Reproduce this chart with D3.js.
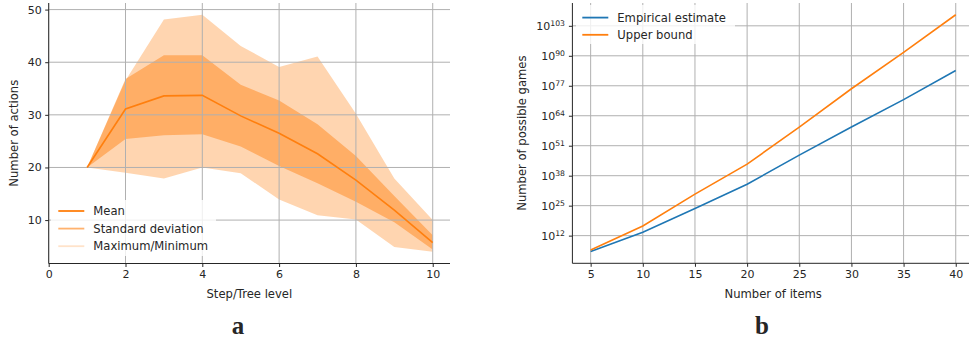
<!DOCTYPE html>
<html>
<head>
<meta charset="utf-8">
<script src="https://cdn.jsdelivr.net/npm/d3@7"></script>
<style>
  html, body { margin: 0; padding: 0; background: #fff; }
  svg { display: block; }
  text { font-family: "DejaVu Sans", sans-serif; fill: #262626; }
</style>
</head>
<body>
<svg id="chart" width="969" height="341"></svg>
<script>
// ---------- Panel a data ----------
const steps = [1, 2, 3, 4, 5, 6, 7, 8, 9, 10];
const meanActions = [20, 31.1, 33.6, 33.7, 29.8, 26.5, 22.6, 17.6, 11.9, 5.7];
const stdUpper = [20, 36.8, 41.3, 41.3, 35.7, 32.7, 28.2, 22.2, 14.6, 7.1];
const stdLower = [20, 25.4, 26.1, 26.3, 24.0, 20.3, 17.0, 13.5, 9.6, 4.4];
const maxActions = [20, 36.5, 48.1, 49.0, 43.1, 39.1, 41.1, 30.2, 17.9, 10.0];
const minActions = [20, 19.0, 17.9, 20.0, 18.9, 13.9, 10.9, 10.1, 4.9, 4.0];
const xTicksA = [0, 2, 4, 6, 8, 10];
const yTicksA = [10, 20, 30, 40, 50];
const legendA = ["Mean", "Standard deviation", "Maximum/Minimum"];

// ---------- Panel b data ----------
const items = [5, 10, 15, 20, 25, 30, 35, 40];
const empiricalExp = [5.1, 13.5, 23.8, 34.3, 46.9, 59.1, 71.0, 83.6];   // log10 of value
const upperExp = [5.8, 16.2, 30.0, 43.0, 59.1, 75.7, 91.5, 107.8];      // log10 of value
const xTicksB = [5, 10, 15, 20, 25, 30, 35, 40];
const yTickExpB = [12, 25, 38, 51, 64, 77, 90, 103];
const legendB = ["Empirical estimate", "Upper bound"];

const ORANGE = "#ff7f0e", BLUE = "#1f77b4", GRID = "#b0b0b0", SPINE = "#262626";
const TICK_FS = "11px", LABEL_FS = "11.6px";
const svg = d3.select("#chart");

// ================= Panel a =================
const A = { left: 48.7, right: 450, top: 3, bottom: 263.5 };
const xA = d3.scaleLinear().domain([0, 10.45]).range([A.left, A.right]);
const yA = d3.scaleLinear().domain([1.75, 51.25]).range([A.bottom, A.top]);

svg.append("clipPath").attr("id", "clipA").append("rect")
  .attr("x", A.left).attr("y", A.top).attr("width", A.right - A.left).attr("height", A.bottom - A.top);
const gA = svg.append("g").attr("clip-path", "url(#clipA)");

const areaMinMax = d3.area().x((d, i) => xA(steps[i])).y0((d, i) => yA(minActions[i])).y1((d, i) => yA(maxActions[i]));
const areaStd = d3.area().x((d, i) => xA(steps[i])).y0((d, i) => yA(stdLower[i])).y1((d, i) => yA(stdUpper[i]));
gA.append("path").datum(steps).attr("d", areaMinMax).attr("fill", ORANGE).attr("fill-opacity", 0.33);
gA.append("path").datum(steps).attr("d", areaStd).attr("fill", ORANGE).attr("fill-opacity", 0.45);

// grid
gA.selectAll("line.gx").data(xTicksA).join("line")
  .attr("x1", d => xA(d)).attr("x2", d => xA(d)).attr("y1", A.top).attr("y2", A.bottom)
  .attr("stroke", GRID).attr("stroke-width", 1);
gA.selectAll("line.gy").data(yTicksA).join("line")
  .attr("y1", d => yA(d)).attr("y2", d => yA(d)).attr("x1", A.left).attr("x2", A.right)
  .attr("stroke", GRID).attr("stroke-width", 1);

gA.append("path").datum(steps)
  .attr("d", d3.line().x((d, i) => xA(steps[i])).y((d, i) => yA(meanActions[i])))
  .attr("fill", "none").attr("stroke", ORANGE).attr("stroke-width", 1.6);

// axes
const axA_x = svg.append("g").attr("transform", `translate(0,${A.bottom})`)
  .call(d3.axisBottom(xA).tickValues(xTicksA).tickSize(3.5).tickPadding(3.5).tickSizeOuter(0));
const axA_y = svg.append("g").attr("transform", `translate(${A.left},0)`)
  .call(d3.axisLeft(yA).tickValues(yTicksA).tickSize(3.5).tickPadding(3.5).tickSizeOuter(0));
[axA_x, axA_y].forEach(g => {
  g.select(".domain").attr("stroke", SPINE).attr("stroke-width", 1);
  g.selectAll(".tick line").attr("stroke", SPINE);
  g.selectAll(".tick text").attr("font-size", TICK_FS).attr("font-family", "DejaVu Sans").attr("fill", "#262626");
});
axA_y.select(".domain").attr("d", `M0,${A.top}V${A.bottom}`);
axA_x.select(".domain").attr("d", `M${A.left},0H${A.right}`);

svg.append("text").attr("x", (A.left + A.right) / 2).attr("y", 297.5)
  .attr("text-anchor", "middle").attr("font-size", LABEL_FS).text("Step/Tree level");
svg.append("text").attr("transform", `translate(17.5,${(A.top + A.bottom) / 2}) rotate(-90)`)
  .attr("text-anchor", "middle").attr("font-size", LABEL_FS).text("Number of actions");

// legend a
const legA = svg.append("g");
legA.append("rect").attr("x", 51).attr("y", 200).attr("width", 165).attr("height", 56)
  .attr("fill", "#fff").attr("fill-opacity", 0.8).attr("rx", 2);
const legAStyles = [{ op: 1 }, { op: 0.6 }, { op: 0.22 }];
legendA.forEach((label, i) => {
  const y = 211 + i * 17.6;
  legA.append("line").attr("x1", 58.3).attr("x2", 84.3).attr("y1", y).attr("y2", y)
    .attr("stroke", ORANGE).attr("stroke-opacity", legAStyles[i].op).attr("stroke-width", 1.8);
  legA.append("text").attr("x", 93.3).attr("y", y).attr("dy", "0.36em")
    .attr("font-size", LABEL_FS).text(label);
});

svg.append("text").attr("x", 238).attr("y", 334).attr("text-anchor", "middle")
  .attr("font-weight", "bold").attr("font-size", "25px")
  .style("font-family", "'Liberation Serif', serif").attr("fill", "#000").text("a");

// ================= Panel b =================
const B = { left: 572.4, right: 974, top: 3, bottom: 263.3 };
const xB = d3.scaleLinear().domain([3.25, 41.75]).range([B.left, B.right]);
const yB = d3.scaleLog().domain([1, Math.pow(10, 112.9)]).range([B.bottom, B.top]);

svg.append("clipPath").attr("id", "clipB").append("rect")
  .attr("x", B.left).attr("y", B.top).attr("width", B.right - B.left).attr("height", B.bottom - B.top);
const gB = svg.append("g").attr("clip-path", "url(#clipB)");

gB.selectAll("line.gx").data(xTicksB).join("line")
  .attr("x1", d => xB(d)).attr("x2", d => xB(d)).attr("y1", B.top).attr("y2", B.bottom)
  .attr("stroke", GRID).attr("stroke-width", 1);
gB.selectAll("line.gy").data(yTickExpB).join("line")
  .attr("y1", d => yB(Math.pow(10, d))).attr("y2", d => yB(Math.pow(10, d))).attr("x1", B.left).attr("x2", B.right)
  .attr("stroke", GRID).attr("stroke-width", 1);

const lineB = arr => d3.line().x((d, i) => xB(items[i])).y((d, i) => yB(Math.pow(10, arr[i])));
gB.append("path").datum(items).attr("d", lineB(empiricalExp))
  .attr("fill", "none").attr("stroke", BLUE).attr("stroke-width", 1.6);
gB.append("path").datum(items).attr("d", lineB(upperExp))
  .attr("fill", "none").attr("stroke", ORANGE).attr("stroke-width", 1.6);

const axB_x = svg.append("g").attr("transform", `translate(0,${B.bottom})`)
  .call(d3.axisBottom(xB).tickValues(xTicksB).tickSize(3.5).tickPadding(3.5).tickSizeOuter(0));
const axB_y = svg.append("g").attr("transform", `translate(${B.left},0)`)
  .call(d3.axisLeft(yB).tickValues(yTickExpB.map(e => Math.pow(10, e))).tickFormat(() => "")
    .tickSize(3.5).tickPadding(3.5).tickSizeOuter(0));
[axB_x, axB_y].forEach(g => {
  g.select(".domain").attr("stroke", SPINE).attr("stroke-width", 1);
  g.selectAll(".tick line").attr("stroke", SPINE);
  g.selectAll(".tick text").attr("font-size", TICK_FS).attr("font-family", "DejaVu Sans").attr("fill", "#262626");
});
axB_y.select(".domain").attr("d", `M0,${B.top}V${B.bottom}`);
axB_x.select(".domain").attr("d", `M${B.left},0H${B.right}`);

// log tick labels with superscripts
yTickExpB.forEach(e => {
  const t = svg.append("text").attr("x", 565).attr("y", yB(Math.pow(10, e))).attr("dy", "0.36em")
    .attr("text-anchor", "end").attr("font-size", TICK_FS);
  t.append("tspan").text("10");
  t.append("tspan").attr("dy", "-0.45em").attr("font-size", "7.7px").text(String(e));
});

svg.append("text").attr("x", (B.left + B.right) / 2).attr("y", 297.5)
  .attr("text-anchor", "middle").attr("font-size", LABEL_FS).text("Number of items");
svg.append("text").attr("transform", `translate(526,${(B.top + B.bottom) / 2}) rotate(-90)`)
  .attr("text-anchor", "middle").attr("font-size", LABEL_FS).text("Number of possible games");

const legB = svg.append("g");
legB.append("rect").attr("x", 576).attr("y", 5).attr("width", 159).attr("height", 39)
  .attr("fill", "#fff").attr("fill-opacity", 0.8).attr("rx", 2);
[BLUE, ORANGE].forEach((c, i) => {
  const y = 17.6 + i * 17.2;
  legB.append("line").attr("x1", 582.3).attr("x2", 608.3).attr("y1", y).attr("y2", y)
    .attr("stroke", c).attr("stroke-width", 1.8);
  legB.append("text").attr("x", 617.3).attr("y", y).attr("dy", "0.36em")
    .attr("font-size", LABEL_FS).text(legendB[i]);
});

svg.append("text").attr("x", 762).attr("y", 334).attr("text-anchor", "middle")
  .attr("font-weight", "bold").attr("font-size", "25px")
  .style("font-family", "'Liberation Serif', serif").attr("fill", "#000").text("b");
</script>
</body>
</html>
